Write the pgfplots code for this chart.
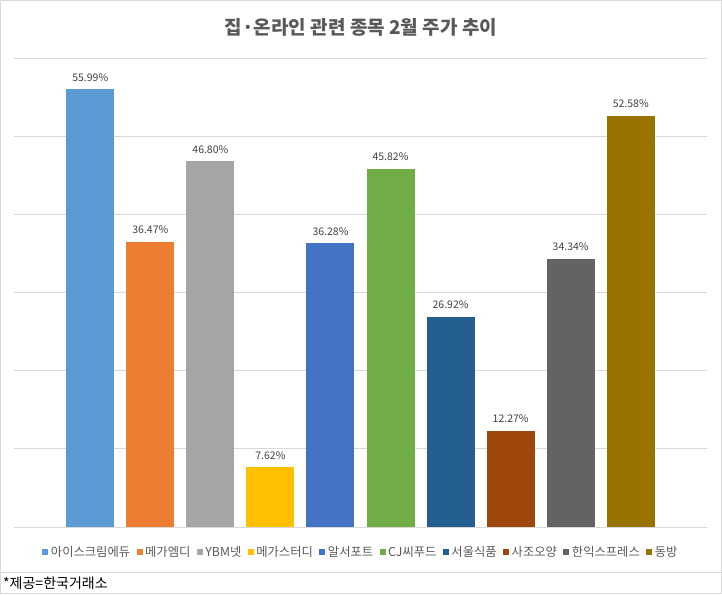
\documentclass[border=0pt]{standalone}
\usepackage{pgfplots}
\pgfplotsset{compat=1.18}
\usepackage{fontspec}
\setmainfont{Noto Sans CJK KR}
\definecolor{c1}{HTML}{5B9BD5}
\definecolor{c2}{HTML}{ED7D31}
\definecolor{c3}{HTML}{A5A5A5}
\definecolor{c4}{HTML}{FFC000}
\definecolor{c5}{HTML}{4472C4}
\definecolor{c6}{HTML}{70AD47}
\definecolor{c7}{HTML}{255E91}
\definecolor{c8}{HTML}{9E480E}
\definecolor{c9}{HTML}{636363}
\definecolor{c10}{HTML}{997300}
\definecolor{gridgray}{HTML}{D9D9D9}
\definecolor{txtgray}{HTML}{595959}
\definecolor{lblgray}{HTML}{404040}
\begin{document}
\begin{tikzpicture}[x=1pt,y=1pt]
\path[use as bounding box] (0,0) rectangle (722,594);
\draw[color=gridgray, line width=1pt] (0.5,0.5) rectangle (721.5,593.5);
\draw[color=gridgray, line width=1pt] (0.5,22) -- (721.5,22);
\node[anchor=west, font=\fontsize{14}{16}\selectfont, inner sep=0pt] at (3,10.5) {*제공=한국거래소};
\node[font=\fontsize{19}{21}\selectfont\bfseries, text=txtgray] at (361,567) {집·온라인 관련 종목 2월 주가 추이};
\begin{axis}[
  at={(14pt,67pt)}, anchor=south west,
  scale only axis, width=693pt, height=469pt,
  ybar, ymin=0, ymax=60, xmin=-1.27, xmax=10.27,
  ytick={0,10,...,60}, yticklabels={}, xtick=\empty,
  ymajorgrids, grid style={color=gridgray, line width=0.8pt},
  axis line style={draw=none}, tick style={draw=none},
  every axis plot/.append style={bar shift=0pt, bar width=48pt, draw=none},
  /pgf/number format/assume math mode=true,
  nodes near coords={\pgfmathprintnumber[fixed,precision=2,fixed zerofill,assume math mode=true]{\pgfplotspointmeta}\%},
  nodes near coords style={font=\fontsize{10.5}{12}\selectfont, text=lblgray, yshift=4.5pt},
  legend style={at={(0.5007,-0.0533)}, anchor=center, draw=none, fill=none,
    legend columns=10, font=\fontsize{12.3}{14}\selectfont, text=txtgray,
    /tikz/every even column/.append style={column sep=4.5pt},
    /tikz/every odd column/.append style={column sep=0.5pt}},
  legend image code/.code={\fill[#1] (0pt,-3pt) rectangle (6pt,3pt);},
]
\addplot[fill=c1] coordinates {(0,55.99)};
\addlegendentry{아이스크림에듀}
\addplot[fill=c2] coordinates {(1,36.47)};
\addlegendentry{메가엠디}
\addplot[fill=c3] coordinates {(2,46.80)};
\addlegendentry{YBM넷}
\addplot[fill=c4] coordinates {(3,7.62)};
\addlegendentry{메가스터디}
\addplot[fill=c5] coordinates {(4,36.28)};
\addlegendentry{알서포트}
\addplot[fill=c6] coordinates {(5,45.82)};
\addlegendentry{CJ씨푸드}
\addplot[fill=c7] coordinates {(6,26.92)};
\addlegendentry{서울식품}
\addplot[fill=c8] coordinates {(7,12.27)};
\addlegendentry{사조오양}
\addplot[fill=c9] coordinates {(8,34.34)};
\addlegendentry{한익스프레스}
\addplot[fill=c10] coordinates {(9,52.58)};
\addlegendentry{동방}
\end{axis}
\end{tikzpicture}
\end{document}
